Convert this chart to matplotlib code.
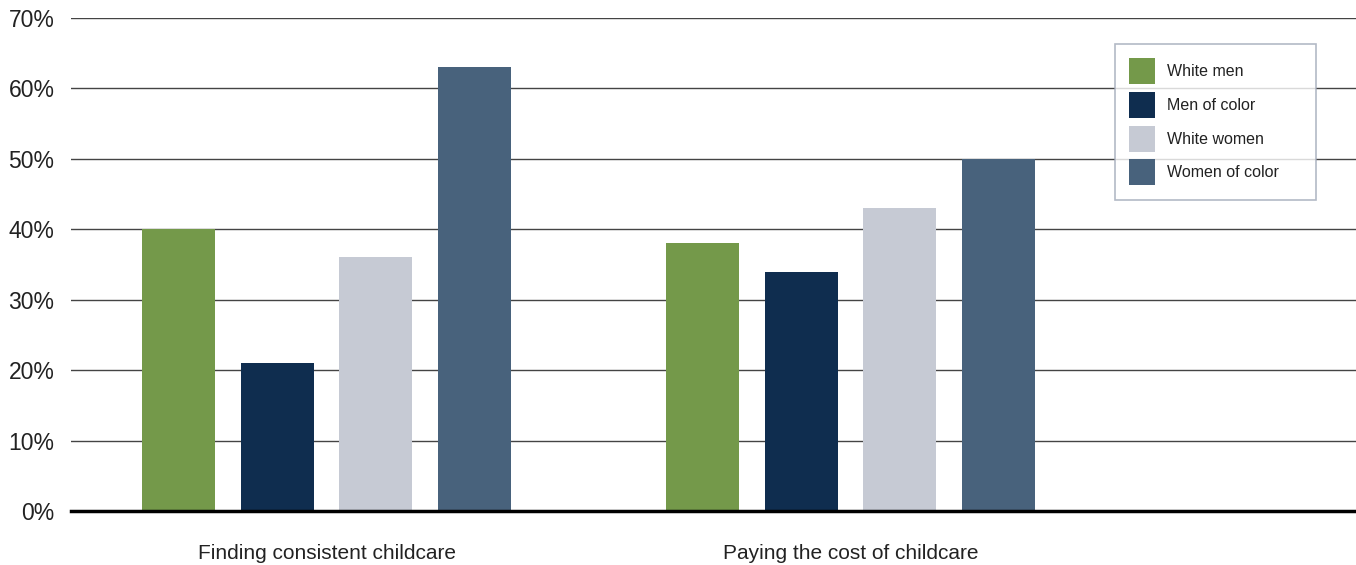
import numpy as np
import matplotlib.pyplot as plt

plt.rcParams['font.family'] = ['Liberation Sans', 'DejaVu Sans']

# Data
categories = ['Finding consistent childcare', 'Paying the cost of childcare']
groups = ['White men', 'Men of color', 'White women', 'Women of color']
white_men = [40, 38]
men_of_color = [21, 34]
white_women = [36, 43]
women_of_color = [63, 50]
yticks = [0, 10, 20, 30, 40, 50, 60, 70]

colors = ['#74994a', '#0f2d4f', '#c6cad4', '#48627c']
series = [white_men, men_of_color, white_women, women_of_color]

fig = plt.figure(figsize=(13.56, 5.65), dpi=100)
ax = fig.add_axes([0.0524, 0.0956, 0.9476, 0.8725])

x = np.arange(len(categories))
pitch = 0.1884
bar_width = 0.139
for i, (vals, col, name) in enumerate(zip(series, colors, groups)):
    ax.bar(x + (i - 1.5) * pitch, vals, width=bar_width, color=col,
           label=name, zorder=3)

ax.set_xlim(-0.4876, 1.9647)
ax.set_ylim(0, 70)
ax.set_yticks(yticks)
ax.set_yticklabels([str(t) + '%' for t in yticks], fontsize=16.5, color='#222222')
ax.set_xticks(x)
ax.set_xticklabels(categories, fontsize=15, color='#222222')
ax.tick_params(axis='both', length=0)
ax.tick_params(axis='y', pad=12)
ax.tick_params(axis='x', pad=24)

ax.yaxis.grid(True, color='#444444', linewidth=1.0, zorder=1)
ax.set_axisbelow(True)
for side in ['left', 'right', 'top']:
    ax.spines[side].set_visible(False)
ax.spines['bottom'].set_color('black')
ax.spines['bottom'].set_linewidth(2.5)
ax.spines['bottom'].set_zorder(4)

# legend box spans a fixed width in figure coords
lgd = ax.legend(loc='upper left',
                bbox_to_anchor=(1115 / 1356, 1 - 200 / 565, 201 / 1356, 156 / 565),
                bbox_transform=fig.transFigure, mode='expand', borderaxespad=0,
                fontsize=11.5, frameon=True, fancybox=False, edgecolor='#a0a8b8',
                handlelength=1.6, handleheight=2.13, labelspacing=0.48,
                borderpad=0.9, handletextpad=0.75)
lgd.get_frame().set_linewidth(1.2)
for t in lgd.get_texts():
    t.set_color('#222222')

fig.savefig('out.png', dpi=100)
